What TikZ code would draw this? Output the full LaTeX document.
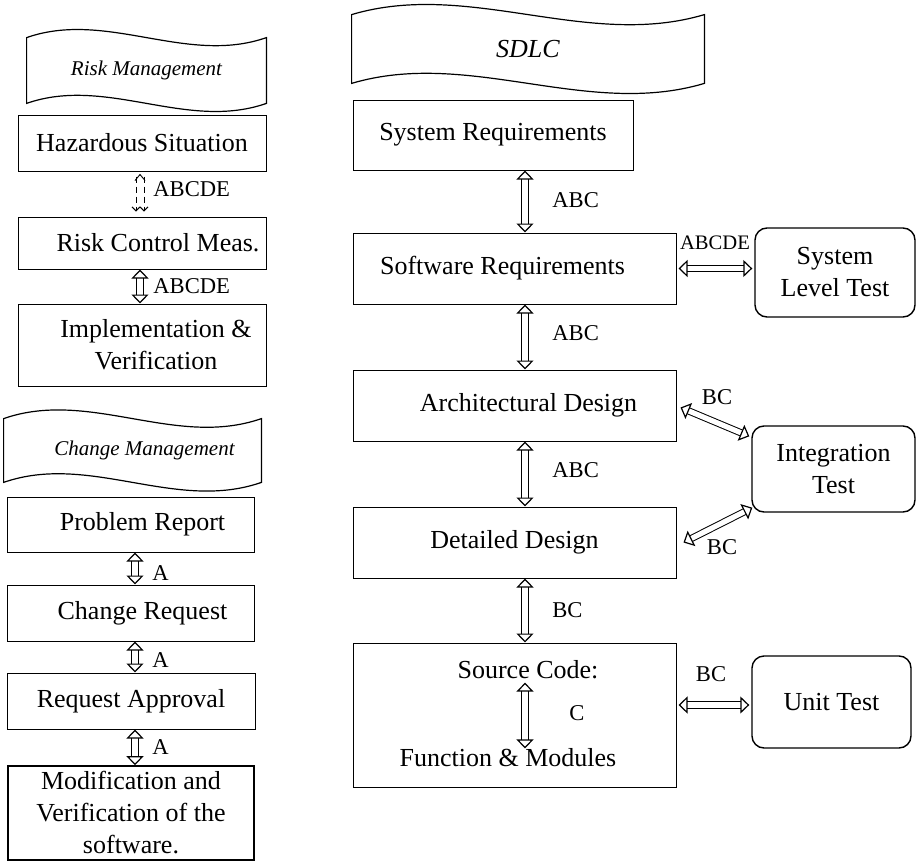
\documentclass[tikz,border=0pt]{standalone}
\usepackage{fontspec}
\setmainfont{Liberation Serif}
\usetikzlibrary{arrows.meta,calc}

% wavy outline round a banner node, #2 = how far the control points pull
\newcommand{\wavybox}[2]{%
  \draw[line width=0.6pt] (#1.north west)
    .. controls ($(#1.north west)!1/3!(#1.north east)+(0,-#2)$) and ($(#1.north west)!2/3!(#1.north east)+(0,#2)$) .. (#1.north east)
    -- (#1.south east)
    .. controls ($(#1.south west)!2/3!(#1.south east)+(0,#2)$) and ($(#1.south west)!1/3!(#1.south east)+(0,-#2)$) .. (#1.south west)
    -- cycle;}

\tikzset{
  box/.style={draw, line width=0.5pt, inner sep=0pt, align=center, font=\fontsize{13}{16}\selectfont},
  testbox/.style={box, rounded corners=6pt, line width=0.7pt},
  banner/.style={inner sep=0pt, font=\fontsize{10.5}{12}\selectfont\itshape},
  lbl/.style={inner sep=1pt, font=\fontsize{11.3}{13}\selectfont},
  dbl/.style={double, double distance=2.6pt, line width=0.5pt,
    {Triangle[open, length=4.5pt, width=8.5pt, line width=0.6pt]}-{Triangle[open, length=4.5pt, width=8.5pt, line width=0.6pt]}},
}

\begin{document}
\begin{tikzpicture}[x=0.5pt,y=-0.5pt]
\useasboundingbox (0,0) rectangle (916,862);

% risk management column
\node[banner, minimum width=119.5pt, minimum height=32.5pt] (riskttl) at (146.5,70.5) {Risk Management};
\wavybox{riskttl}{28}
\node[box, minimum width=124pt, minimum height=28pt] (hazard) at (142,143) {Hazardous Situation};
\node[box, minimum width=124pt, minimum height=26pt] (riskctl) at (142,243) {\hspace*{16pt}Risk Control Meas.};
\node[box, minimum width=124pt, minimum height=41pt] (impl) at (142,345) {\hspace*{14pt}Implementation \&\\\hspace*{14pt}Verification};

% change management column
\node[banner, minimum width=128.5pt, minimum height=31.5pt] (chgttl) at (132.5,450.5) {\hspace*{12pt}Change Management};
\wavybox{chgttl}{30}
\node[box, minimum width=123.5pt, minimum height=27.5pt] (problem) at (130.5,524.5) {\hspace*{12pt}Problem Report};
\node[box, minimum width=123.5pt, minimum height=28pt] (chgreq) at (130.5,613) {\hspace*{12pt}Change Request};
\node[box, minimum width=124pt, minimum height=28pt] (approval) at (131,701) {Request Approval};
\node[box, line width=0.8pt, minimum width=123pt, minimum height=47pt] (modif) at (131,813) {Modification and\\Verification of the\\software.};

% sdlc column
\node[banner, font=\fontsize{13}{15}\selectfont\itshape, minimum width=176pt, minimum height=34pt] (sdlcttl) at (528,49) {SDLC};
\wavybox{sdlcttl}{35}
\node[box, minimum width=140pt, minimum height=35pt] (sysreq) at (493,135) {System Requirements};
\node[box, minimum width=161.5pt, minimum height=35.5pt] (swreq) at (514.5,268.5) {Software Requirements\hspace*{12pt}};
\node[box, minimum width=161.5pt, minimum height=35.5pt] (archdes) at (514.5,405.5) {\hspace*{14pt}Architectural Design};
\node[box, minimum width=161.5pt, minimum height=35.5pt] (detdes) at (514.5,542.5) {Detailed Design};
\node[box, minimum width=161.5pt, minimum height=72pt] (srccode) at (514.5,715) {};
\node[lbl, font=\fontsize{13}{16}\selectfont] (srchead) at (528,670) {Source Code:};
\node[lbl, font=\fontsize{13}{16}\selectfont] (srcfun) at (508,758) {Function \& Modules};

% test boxes
\node[testbox, minimum width=80pt, minimum height=44.5pt] (systest) at (835,272.5) {System\\Level Test};
\node[testbox, minimum width=81.5pt, minimum height=43pt] (integ) at (833.5,469) {Integration\\Test};
\node[testbox, minimum width=79.5pt, minimum height=46pt] (unittest) at (831.5,702) {Unit Test};

\coordinate (axisL) at (140,0);
\coordinate (axisC) at (135,0);
\coordinate (axisR) at (525,0);

% left column links
\draw[line width=0.45pt, densely dashed, -{Straight Barb[length=2pt,width=4pt]}] ($(hazard.south -| axisL)+(-4,5)$) -- ($(riskctl.north -| axisL)+(-4,-5)$);
\draw[line width=0.45pt, densely dashed, -{Straight Barb[length=2pt,width=4pt]}] ($(hazard.south -| axisL)+(4,5)$) -- ($(riskctl.north -| axisL)+(4,-5)$);
\draw[line width=0.45pt] ($(hazard.south -| axisL)+(-5,9)$) -- ($(hazard.south -| axisL)+(0,3)$) -- ($(hazard.south -| axisL)+(5,9)$);
\draw[dbl] (riskctl.south -| axisL) -- (impl.north -| axisL);
\draw[dbl] (problem.south -| axisC) -- (chgreq.north -| axisC);
\draw[dbl] (chgreq.south -| axisC) -- (approval.north -| axisC);
\draw[dbl] (approval.south -| axisC) -- (modif.north -| axisC);

\node[lbl, anchor=west] (lhaz) at (151,189) {ABCDE};
\node[lbl, anchor=west] (lctl) at (151,286) {ABCDE};
\node[lbl, anchor=west] (lprob) at (150,573) {A};
\node[lbl, anchor=west] (lreq) at (150,660) {A};
\node[lbl, anchor=west] (lappr) at (150,747) {A};

% sdlc links
\draw[dbl] (sysreq.south -| axisR) -- (swreq.north -| axisR);
\draw[dbl] (swreq.south -| axisR) -- (archdes.north -| axisR);
\draw[dbl] (archdes.south -| axisR) -- (detdes.north -| axisR);
\draw[dbl] (detdes.south -| axisR) -- (srccode.north -| axisR);
\draw[dbl] ($(srchead.south -| axisR)+(0,1)$) -- ($(srcfun.north -| axisR)+(0,2)$);

\node[lbl, anchor=west] (lsys) at (550,200) {ABC};
\node[lbl, anchor=west] (lsw) at (550,333) {ABC};
\node[lbl, anchor=west] (larch) at (550,470) {ABC};
\node[lbl, anchor=west] (ldet) at (550,610) {BC};
\node[lbl] (lsrc) at (577,713) {C};

% links to the tests
\draw[dbl] ($(swreq.east)+(2,0)$) -- ($(swreq.east -| systest.west)+(-2,0)$);
\draw[dbl] ($(archdes.east)+(4,2)$) -- ($(integ.north west)+(-2,11)$);
\draw[dbl] ($(detdes.east)+(7,0)$) -- ($(integ.south west)+(1,-5)$);
\draw[dbl] ($(srccode.east)+(2,-10)$) -- ($(srccode.east -| unittest.west)+(-2,-10)$);

\node[lbl, font=\fontsize{10.3}{12}\selectfont] (lsyst) at (715,243) {ABCDE};
\node[lbl] (larchi) at (717,397) {BC};
\node[lbl] (ldeti) at (722,547) {BC};
\node[lbl] (lunit) at (711,674) {BC};
\end{tikzpicture}
\end{document}
